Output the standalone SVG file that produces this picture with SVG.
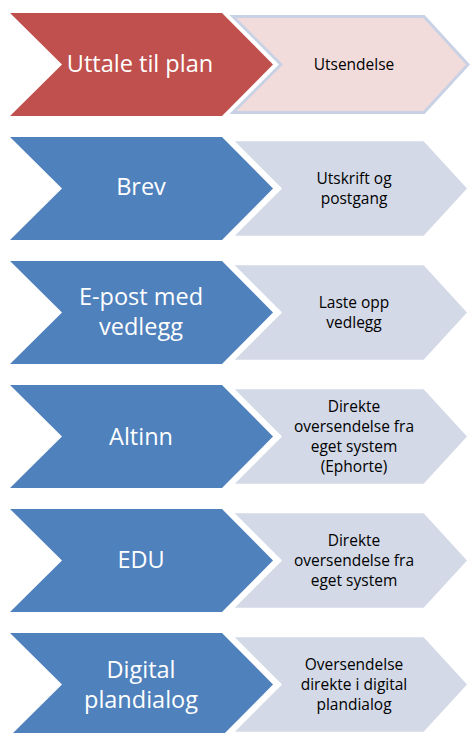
<svg xmlns="http://www.w3.org/2000/svg" width="470" height="733" viewBox="0 0 470 733">
<defs>
<style>
.lc{fill:#4F81BD}
.lc.red{fill:#C0504D}
.rc{fill:#D3D9E7;stroke:#FFFFFF;stroke-width:1.5;stroke-linejoin:miter}
.rc.pink{fill:#F2DCDB;stroke:#C9D2E4;stroke-width:3}
.lt{font-family:"Open Sans","Liberation Sans",sans-serif;font-size:23.5px;fill:#FFFFFF;text-anchor:middle}
.rt{font-family:"Open Sans","Liberation Sans",sans-serif;font-size:15.5px;fill:#000000;text-anchor:middle}
</style>
<polygon id="lshape" points="10,0 222,0 273,51.5 222,103 10,103 62,51.5"/>
<polygon id="rshape" points="233,3.5 424,3.5 468,51.5 424,99.5 233,99.5 281,51.5"/>
</defs>
<rect width="470" height="733" fill="#FFFFFF"/>

<g id="row1">
  <g id="n-uttale"><use href="#lshape" class="lc red" transform="translate(0,13)"/><text class="lt" x="140" y="72">Uttale til plan</text></g>
  <g id="n-utsendelse"><use href="#rshape" class="rc pink" transform="translate(0,13)"/><text class="rt" x="354" y="70">Utsendelse</text></g>
</g>

<g id="row2">
  <g id="n-brev"><use href="#lshape" class="lc" transform="translate(0,137)"/><text class="lt" x="141" y="195">Brev</text></g>
  <g id="n-utskrift"><use href="#rshape" class="rc" transform="translate(0,137)"/><text class="rt" x="354" y="184">Utskrift og</text><text class="rt" x="354" y="204">postgang</text></g>
</g>

<g id="row3">
  <g id="n-epost"><use href="#lshape" class="lc" transform="translate(0,261)"/><text class="lt" x="141" y="305">E-post med</text><text class="lt" x="141" y="335">vedlegg</text></g>
  <g id="n-laste"><use href="#rshape" class="rc" transform="translate(0,261)"/><text class="rt" x="354" y="308">Laste opp</text><text class="rt" x="354" y="328">vedlegg</text></g>
</g>

<g id="row4">
  <g id="n-altinn"><use href="#lshape" class="lc" transform="translate(0,385)"/><text class="lt" x="141" y="445">Altinn</text></g>
  <g id="n-direkte1"><use href="#rshape" class="rc" transform="translate(0,385)"/><text class="rt" x="354" y="412">Direkte</text><text class="rt" x="354" y="432">oversendelse fra</text><text class="rt" x="354" y="452">eget system</text><text class="rt" x="354" y="472">(Ephorte)</text></g>
</g>

<g id="row5">
  <g id="n-edu"><use href="#lshape" class="lc" transform="translate(0,509)"/><text class="lt" x="141" y="568">EDU</text></g>
  <g id="n-direkte2"><use href="#rshape" class="rc" transform="translate(0,509)"/><text class="rt" x="354" y="546">Direkte</text><text class="rt" x="354" y="566">oversendelse fra</text><text class="rt" x="354" y="586">eget system</text></g>
</g>

<g id="row6">
  <g id="n-digital"><use href="#lshape" class="lc" transform="translate(0,633)"/><text class="lt" x="141" y="678">Digital</text><text class="lt" x="141" y="708">plandialog</text></g>
  <g id="n-oversendelse"><use href="#rshape" class="rc" transform="translate(0,633)"/><text class="rt" x="354" y="670">Oversendelse</text><text class="rt" x="354" y="690">direkte i digital</text><text class="rt" x="354" y="710">plandialog</text></g>
</g>

<g id="connectors"></g>
</svg>
